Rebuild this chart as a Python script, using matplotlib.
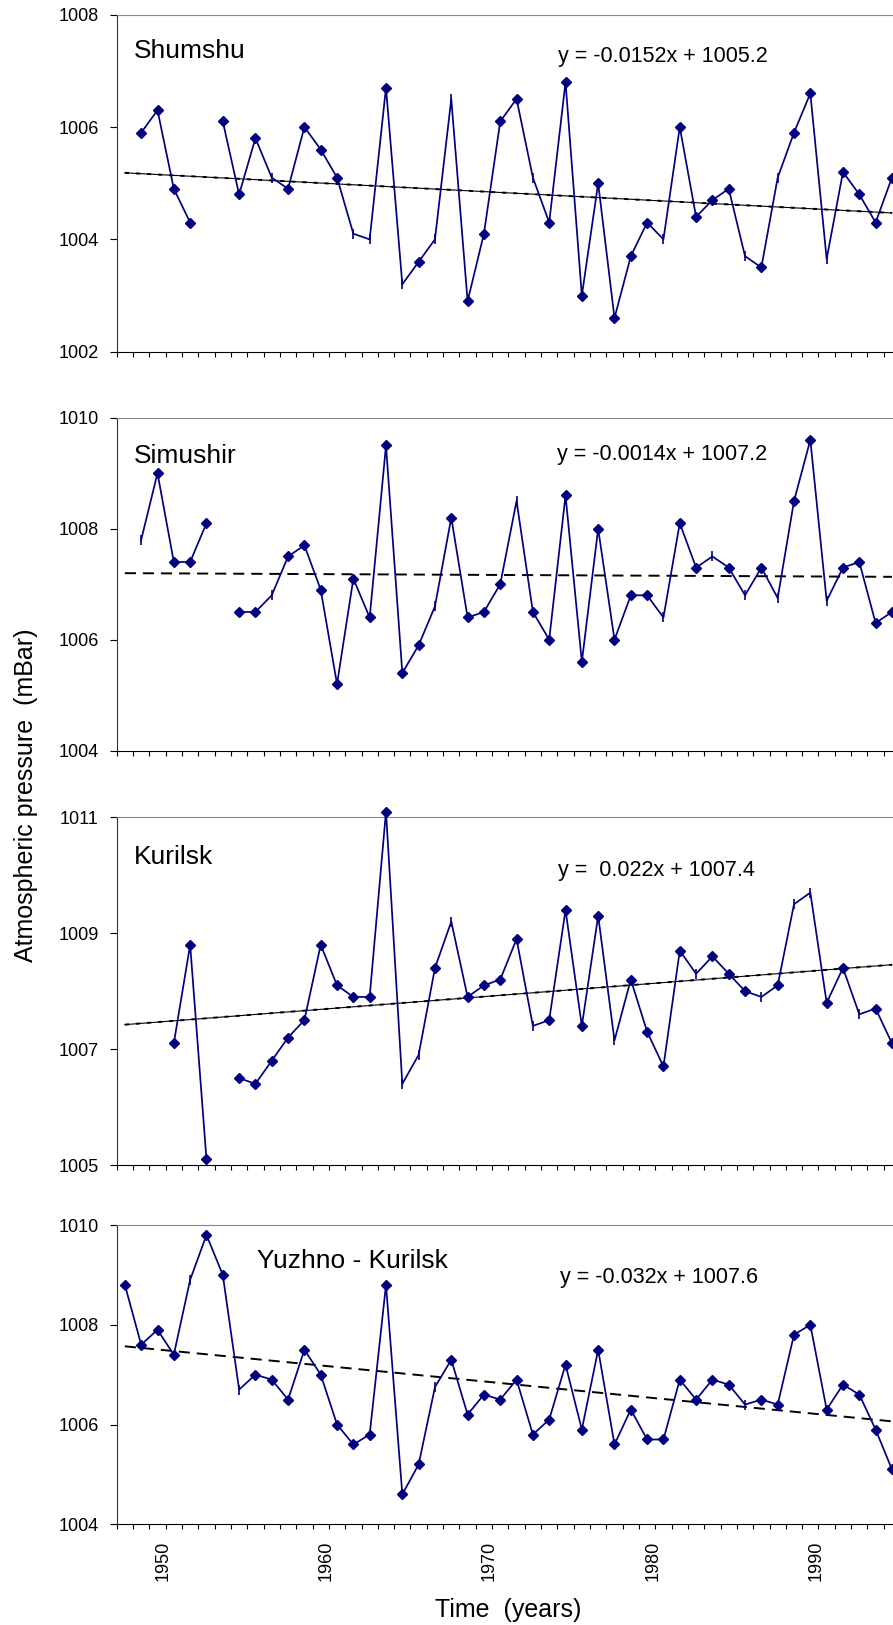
import numpy as np
import matplotlib
matplotlib.use("Agg")
import matplotlib.pyplot as plt
import matplotlib.transforms as mtransforms

plt.rcParams['font.family'] = ['Liberation Sans', 'DejaVu Sans']
plt.rcParams['lines.scale_dashes'] = False

nan = np.nan

# Data (annual mean atmospheric pressure, mBar)
years = list(range(1948, 1996))

shumshu = [nan, 1005.9, 1006.3, 1004.9, 1004.3, nan, 1006.1, 1004.8, 1005.8, 1005.1,
           1004.9, 1006.0, 1005.6, 1005.1, 1004.1, 1004.0, 1006.7, 1003.2, 1003.6, 1004.0,
           1006.5, 1002.9, 1004.1, 1006.1, 1006.5, 1005.1, 1004.3, 1006.8, 1003.0, 1005.0,
           1002.6, 1003.7, 1004.3, 1004.0, 1006.0, 1004.4, 1004.7, 1004.9, 1003.7, 1003.5,
           1005.1, 1005.9, 1006.6, 1003.65, 1005.2, 1004.8, 1004.3, 1005.1]
simushir = [nan, 1007.8, 1009.0, 1007.4, 1007.4, 1008.1, nan, 1006.5, 1006.5, 1006.8,
            1007.5, 1007.7, 1006.9, 1005.2, 1007.1, 1006.4, 1009.5, 1005.4, 1005.9, 1006.6,
            1008.2, 1006.4, 1006.5, 1007.0, 1008.5, 1006.5, 1006.0, 1008.6, 1005.6, 1008.0,
            1006.0, 1006.8, 1006.8, 1006.4, 1008.1, 1007.3, 1007.5, 1007.3, 1006.8, 1007.3,
            1006.75, 1008.5, 1009.6, 1006.7, 1007.3, 1007.4, 1006.3, 1006.5]
kurilsk = [nan, nan, nan, 1007.1, 1008.8, 1005.1, nan, 1006.5, 1006.4, 1006.8,
           1007.2, 1007.5, 1008.8, 1008.1, 1007.9, 1007.9, 1011.1, 1006.4, 1006.9, 1008.4,
           1009.2, 1007.9, 1008.1, 1008.2, 1008.9, 1007.4, 1007.5, 1009.4, 1007.4, 1009.3,
           1007.15, 1008.2, 1007.3, 1006.7, 1008.7, 1008.3, 1008.6, 1008.3, 1008.0, 1007.9,
           1008.1, 1009.5, 1009.7, 1007.8, 1008.4, 1007.6, 1007.7, 1007.1]
yuzhno = [1008.8, 1007.6, 1007.9, 1007.4, 1008.9, 1009.8, 1009.0, 1006.7, 1007.0, 1006.9,
          1006.5, 1007.5, 1007.0, 1006.0, 1005.6, 1005.8, 1008.8, 1004.6, 1005.2, 1006.75,
          1007.3, 1006.2, 1006.6, 1006.5, 1006.9, 1005.8, 1006.1, 1007.2, 1005.9, 1007.5,
          1005.6, 1006.3, 1005.7, 1005.7, 1006.9, 1006.5, 1006.9, 1006.8, 1006.4, 1006.5,
          1006.4, 1007.8, 1008.0, 1006.3, 1006.8, 1006.6, 1005.9, 1005.1]

# years drawn without the diamond marker in the original
shumshu_plain = [1957, 1962, 1963, 1965, 1967, 1968, 1973, 1981, 1986, 1988, 1991]
simushir_plain = [1949, 1957, 1967, 1972, 1981, 1984, 1986, 1988, 1991]
kurilsk_plain = [1965, 1966, 1968, 1973, 1978, 1983, 1987, 1989, 1990, 1993]
yuzhno_plain = [1952, 1955, 1967, 1986]

names = ["Shumshu", "Simushir", "Kurilsk", "Yuzhno - Kurilsk"]
equations = ["y = -0.0152x + 1005.2", "y = -0.0014x + 1007.2",
             "y =  0.022x + 1007.4", "y = -0.032x + 1007.6"]
slopes = [-0.0152, -0.0014, 0.022, -0.032]
intercepts = [1005.2, 1007.2, 1007.4, 1007.6]
y_ranges = [(1002, 1008), (1004, 1010), (1005, 1011), (1004, 1010)]
y_ticks = [[1002, 1004, 1006, 1008], [1004, 1006, 1008, 1010],
           [1005, 1007, 1009, 1011], [1004, 1006, 1008, 1010]]
year_labels = [1950, 1960, 1970, 1980, 1990]

series = [shumshu, simushir, kurilsk, yuzhno]
plain = [shumshu_plain, simushir_plain, kurilsk_plain, yuzhno_plain]

# layout (pixels in a 893 x 1625 canvas)
W, H = 893.0, 1625.0
panels_px = [(14.7, 351.7), (417.7, 750.7), (817.3, 1165.0), (1225.0, 1524.3)]
title_pos = [(0.0225, 0.8715), (0.0225, 0.863), (0.0225, 0.866), (0.1787, 0.857)]
eq_pos = [(0.5633, 0.8605), (0.5624, 0.873), (0.5637, 0.831), (0.5659, 0.807)]

navy = '#000080'
fig = plt.figure(figsize=(8.93, 16.25), dpi=100)

for i in range(4):
    top, bottom = panels_px[i]
    ax = fig.add_axes([116.7 / W, 1 - bottom / H, 783.4 / W, (bottom - top) / H])
    yrs = np.array(years)
    vals = np.array(series[i], dtype=float)
    is_plain = np.isin(yrs, plain[i])

    ax.plot(yrs, vals, color=navy, lw=1.25, clip_on=False, zorder=3)
    ax.plot(yrs[~is_plain], vals[~is_plain], ls='none', marker='D', ms=5.2,
            color=navy, clip_on=False, zorder=4)
    ax.plot(yrs[is_plain], vals[is_plain], ls='none', marker='|', ms=6.5,
            mew=1.2, color=navy, clip_on=False, zorder=4)

    # linear trend line
    tx = np.array([years[0], years[-1]])
    ty = intercepts[i] + slopes[i] * (tx - 1947)
    if i in (0, 2):
        ax.plot(tx, ty, color='black', lw=0.8, zorder=2)
        ax.plot(tx, ty, color='black', lw=1.4, dashes=(3, 5), zorder=2)
    else:
        ax.plot(tx, ty, color='black', lw=1.4, dashes=(8, 5), zorder=2)

    ax.set_xlim(1947.5, 1995.5)
    ax.set_ylim(*y_ranges[i])
    ax.set_yticks(y_ticks[i])
    ax.tick_params(axis='y', direction='out', length=5, width=0.8,
                   labelsize=13, pad=8)
    ax.set_xticks(np.arange(1947.5, 1996, 1.0))
    ax.tick_params(axis='x', which='major', direction='out', length=3.6,
                   width=0.8, labelbottom=False)

    ax.spines['right'].set_visible(False)
    ax.spines['top'].set_color('#888888')
    ax.spines['top'].set_linewidth(0.8)
    ax.spines['left'].set_color('#333333')
    ax.spines['left'].set_linewidth(0.8)
    ax.spines['bottom'].set_color('black')
    ax.spines['bottom'].set_linewidth(0.8)

    ax.text(title_pos[i][0], title_pos[i][1], names[i], transform=ax.transAxes,
            fontsize=19, va='baseline', ha='left')
    ax.text(eq_pos[i][0], eq_pos[i][1], equations[i], transform=ax.transAxes,
            fontsize=15.5, va='baseline', ha='left')

    if i == 3:
        ax.set_xticks(year_labels, minor=True)
        ax.set_xticklabels([str(y) for y in year_labels], minor=True,
                           rotation=90, fontsize=13)
        ax.tick_params(axis='x', which='minor', length=0, pad=12)
        offset = mtransforms.ScaledTranslation(5.5 / 100, 0, fig.dpi_scale_trans)
        for lab in ax.get_xticklabels(minor=True):
            lab.set_transform(lab.get_transform() + offset)

fig.text(26 / W, 1 - 795 / H, "Atmospheric pressure  (mBar)", rotation=90,
         fontsize=18, ha='center', va='center')
fig.text(508.5 / W, 1 - 1616.7 / H, "Time  (years)", fontsize=18,
         ha='center', va='baseline')

fig.savefig("out.png", dpi=100)
